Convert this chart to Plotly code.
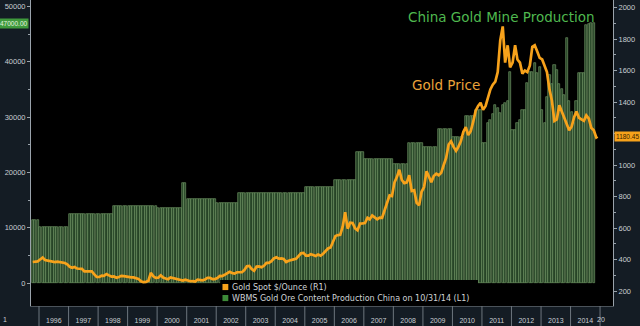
import pandas as pd
import plotly.graph_objects as go

# Monthly China gold ore content production (kg), Oct 1995 - Oct 2014
prod_1995 = [11400, 11400, 11400]
prod_1996 = [10100, 10100, 10100, 10100, 10100, 10100, 10100, 10100, 10100, 10100, 10100, 10100]
prod_1997 = [12450, 12450, 12450, 12450, 12450, 12450, 12450, 12450, 12450, 12450, 12450, 12450]
prod_1998 = [12450, 12450, 12450, 12450, 12450, 12450, 13980, 13980, 13980, 13980, 13980, 13980]
prod_1999 = [13980, 13980, 13980, 13980, 13980, 13980, 13980, 13980, 13980, 13980, 13980, 13980]
prod_2000 = [13510, 13510, 13510, 13510, 13510, 13510, 13510, 13510, 13510, 13510, 18030, 18030]
prod_2001 = [15140, 15140, 15140, 15140, 15140, 15140, 15140, 15140, 15140, 15140, 15140, 15140]
prod_2002 = [14500, 14500, 14500, 14500, 14500, 14500, 14500, 14500, 14500, 16250, 16250, 16250]
prod_2003 = [16250, 16250, 16250, 16250, 16250, 16250, 16250, 16250, 16250, 16250, 16250, 16250]
prod_2004 = [16250, 16250, 16250, 16250, 16250, 16250, 16250, 16250, 16250, 16250, 16250, 16250]
prod_2005 = [17300, 17300, 17300, 17300, 17300, 17300, 17300, 17300, 17300, 17300, 17300, 17300]
prod_2006 = [18630, 18630, 18630, 18630, 18630, 18630, 18630, 18630, 18630, 23600, 23600, 23600]
prod_2007 = [22400, 22400, 22400, 22400, 22400, 22400, 22400, 22400, 22400, 22400, 22400, 22400]
prod_2008 = [21460, 21460, 21460, 21460, 21460, 21460, 25380, 25380, 25380, 25380, 25380, 25380]
prod_2009 = [24540, 24540, 24540, 24540, 24540, 24540, 27900, 27900, 27900, 27900, 27900, 27900]
prod_2010 = [26400, 26400, 26400, 26400, 26400, 30200, 30200, 30200, 30200, 31300, 31300, 31300]
prod_2011 = [25300, 25300, 29000, 29500, 30500, 32200, 31650, 30800, 32200, 32550, 33000, 38150]
prod_2012 = [27670, 27670, 28930, 29480, 31280, 31280, 36170, 38150, 38150, 39780, 38000, 39060]
prod_2013 = [31280, 28930, 33630, 37600, 36000, 39420, 38500, 36000, 35000, 34000, 44300, 33000]
prod_2014 = [31000, 29000, 33000, 37970, 37970, 37970, 46650, 46900, 47000, 47000]

# Monthly gold spot price ($/oz), Oct 1995 - Nov 2014, then the last quote
gold_1995 = [384, 387, 388]
gold_1996 = [400, 412, 397, 393, 391, 385, 384, 387, 383, 381, 378, 369]
gold_1997 = [354, 347, 352, 343, 344, 341, 324, 324, 323, 325, 306, 289]
gold_1998 = [289, 297, 296, 308, 299, 292, 293, 284, 289, 296, 294, 291]
gold_1999 = [287, 287, 286, 282, 277, 262, 256, 257, 265, 315, 293, 283]
gold_2000 = [284, 300, 286, 280, 275, 286, 282, 275, 273, 270, 266, 272]
gold_2001 = [266, 262, 263, 260, 272, 270, 268, 273, 283, 283, 276, 276]
gold_2002 = [282, 296, 294, 303, 314, 322, 314, 310, 319, 317, 319, 333]
gold_2003 = [357, 359, 340, 328, 355, 356, 351, 360, 379, 379, 389, 407]
gold_2004 = [414, 405, 407, 403, 384, 392, 398, 401, 405, 420, 439, 442]
gold_2005 = [424, 424, 434, 429, 422, 431, 424, 437, 456, 470, 476, 510]
gold_2006 = [549, 555, 557, 610, 700, 596, 634, 632, 598, 586, 628, 629]
gold_2007 = [631, 665, 655, 680, 668, 655, 666, 665, 713, 754, 807, 803]
gold_2008 = [890, 925, 970, 905, 885, 890, 935, 835, 840, 760, 745, 830]
gold_2009 = [860, 960, 920, 890, 930, 945, 935, 950, 1000, 1045, 1130, 1150]
gold_2010 = [1115, 1090, 1115, 1150, 1210, 1240, 1190, 1215, 1275, 1345, 1375, 1395]
gold_2011 = [1350, 1375, 1425, 1480, 1510, 1530, 1590, 1790, 1880, 1650, 1760, 1620]
gold_2012 = [1650, 1760, 1670, 1650, 1580, 1600, 1590, 1630, 1750, 1760, 1720, 1680]
gold_2013 = [1670, 1630, 1590, 1480, 1410, 1280, 1290, 1380, 1340, 1310, 1270, 1220]
gold_2014 = [1245, 1305, 1340, 1300, 1290, 1280, 1315, 1295, 1235, 1220, 1175]
gold_last_date = "2014-12-01"
gold_last = 1180.45

prod_label = "47000.00"
gold_label = "1180.45"
legend_names = ["Gold Spot $/Ounce (R1)",
                "WBMS Gold Ore Content Production China on 10/31/14 (L1)"]

left_ticks = [0, 10000, 20000, 30000, 40000, 50000]
right_ticks = [200, 400, 600, 800, 1000, 1200, 1400, 1600, 1800, 2000]
# the 1200 label sits under the last-price tag, so it is left blank
right_text = ["200", "400", "600", "800", "1000", "", "1400", "1600", "1800", "2000"]

production = (prod_1995 + prod_1996 + prod_1997 + prod_1998 + prod_1999 + prod_2000
              + prod_2001 + prod_2002 + prod_2003 + prod_2004 + prod_2005 + prod_2006
              + prod_2007 + prod_2008 + prod_2009 + prod_2010 + prod_2011 + prod_2012
              + prod_2013 + prod_2014)
gold = (gold_1995 + gold_1996 + gold_1997 + gold_1998 + gold_1999 + gold_2000
        + gold_2001 + gold_2002 + gold_2003 + gold_2004 + gold_2005 + gold_2006
        + gold_2007 + gold_2008 + gold_2009 + gold_2010 + gold_2011 + gold_2012
        + gold_2013 + gold_2014)

prod_dates = pd.date_range("1995-10-01", periods=len(production), freq="MS") + pd.Timedelta(days=14)
gold_dates = list(pd.date_range("1995-10-01", periods=len(gold), freq="MS") + pd.Timedelta(days=14))
gold_dates.append(pd.Timestamp(gold_last_date))
gold_values = gold + [gold_last]

years = list(range(1996, 2016))

ORANGE = "#f7a21b"
BAR_FILL = "#274427"
BAR_EDGE = "#7aa36f"
GREEN_TXT = "#4fb84f"
AXIS = "#9aa3ab"
TXT = "#c9ced3"
FONT = "DejaVu Sans"
NARROW = "Liberation Sans Narrow, Liberation Sans, Arial"

fig = go.Figure()

fig.add_trace(go.Bar(
    x=prod_dates, y=production, yaxis="y",
    marker=dict(color=BAR_FILL, line=dict(color=BAR_EDGE, width=0.6)),
    name=legend_names[1], showlegend=False,
))
fig.add_trace(go.Scatter(
    x=gold_dates, y=gold_values, yaxis="y2", mode="lines",
    line=dict(color=ORANGE, width=2.7), name=legend_names[0], showlegend=False,
))

# year dividers below the time axis
shapes = []
for yr in years:
    shapes.append(dict(type="line", xref="x", yref="paper",
                       x0=f"{yr}-01-01", x1=f"{yr}-01-01", y0=0, y1=-0.068,
                       line=dict(color="#6d767e", width=1)))

# compact key box in the lower part of the plot
key_x0, key_x1 = 0.325, 0.768
shapes.append(dict(type="rect", xref="paper", yref="paper", x0=key_x0, x1=key_x1,
                   y0=0.002, y1=0.085, fillcolor="#000000", line=dict(width=0)))
shapes.append(dict(type="rect", xref="paper", yref="paper", x0=key_x0 + 0.004,
                   x1=key_x0 + 0.014, y0=0.052, y1=0.072, fillcolor=ORANGE,
                   line=dict(width=0)))
shapes.append(dict(type="rect", xref="paper", yref="paper", x0=key_x0 + 0.004,
                   x1=key_x0 + 0.014, y0=0.016, y1=0.036, fillcolor="#3d8a38",
                   line=dict(width=0)))

annotations = [
    dict(text=legend_names[0], xref="paper", yref="paper", x=key_x0 + 0.017, y=0.062,
         xanchor="left", yanchor="middle", showarrow=False,
         font=dict(size=8, color="#cfd3d6", family=FONT)),
    dict(text=legend_names[1], xref="paper", yref="paper", x=key_x0 + 0.017, y=0.026,
         xanchor="left", yanchor="middle", showarrow=False,
         font=dict(size=8, color="#cfd3d6", family=FONT)),
    dict(text="China Gold Mine Production", xref="paper", yref="paper",
         x=0.808, y=0.944, showarrow=False, xanchor="center", yanchor="middle",
         font=dict(size=13.5, color=GREEN_TXT, family=FONT)),
    dict(text="Gold Price", xref="paper", yref="paper",
         x=0.713, y=0.722, showarrow=False, xanchor="center", yanchor="middle",
         font=dict(size=13.5, color="#eba33a", family=FONT)),
    dict(text=prod_label, xref="paper", yref="y", x=0, y=production[-1],
         xanchor="right", yanchor="middle", showarrow=False, xshift=-2,
         bgcolor="#3f9a3c", borderpad=1, font=dict(size=6.5, color="#e6f5e0", family=NARROW)),
    dict(text=gold_label, xref="paper", yref="y2", x=1, y=gold_last,
         xanchor="left", yanchor="middle", showarrow=False, xshift=1,
         bgcolor=ORANGE, borderpad=1, font=dict(size=6.5, color="#3a2400", family=NARROW)),
    dict(text="1", xref="paper", yref="paper", x=-0.045, y=-0.045,
         xanchor="center", yanchor="middle", showarrow=False,
         font=dict(size=7, color=TXT, family=NARROW)),
    dict(text="20", xref="paper", yref="paper", x=0.98, y=-0.045,
         xanchor="center", yanchor="middle", showarrow=False,
         font=dict(size=7, color=TXT, family=NARROW)),
]

fig.update_layout(
    width=640, height=326,
    margin=dict(l=31, r=27, t=0, b=20),
    paper_bgcolor="#141c24", plot_bgcolor="#000000",
    bargap=0, barmode="overlay",
    font=dict(family=NARROW, color=TXT, size=8),
    shapes=shapes,
    annotations=annotations,
    showlegend=False,
    xaxis=dict(type="date", range=["1995-09-24", "2015-06-10"],
               tick0="1996-01-01", dtick="M12", tickformat="%Y",
               ticklabelmode="period", ticks="outside", ticklen=8,
               tickcolor="rgba(0,0,0,0)", showgrid=False, zeroline=False,
               showline=True, linecolor="#4b535a", linewidth=1,
               tickfont=dict(size=7, color=TXT, family=NARROW)),
    yaxis=dict(range=[-4160, 51175], tickvals=left_ticks,
               tickformat="d",
               ticks="outside", ticklen=3, tickcolor=AXIS, showgrid=False,
               zeroline=False, showline=True, linecolor=AXIS, linewidth=1,
               tickfont=dict(size=7.5, color=TXT, family=NARROW),
               minor=dict(ticks="outside", ticklen=2, dtick=5000, tickcolor=AXIS)),
    yaxis2=dict(range=[104.8, 2047.6], overlaying="y", side="right",
                tickvals=right_ticks, ticktext=right_text,
                ticks="outside", ticklen=3, tickcolor=AXIS, showgrid=False,
                zeroline=False, showline=True, linecolor=AXIS, linewidth=1,
                tickfont=dict(size=7.5, color=TXT, family=NARROW),
                minor=dict(ticks="outside", ticklen=2, dtick=100, tickcolor=AXIS)),
)

fig.write_html("out.html")
